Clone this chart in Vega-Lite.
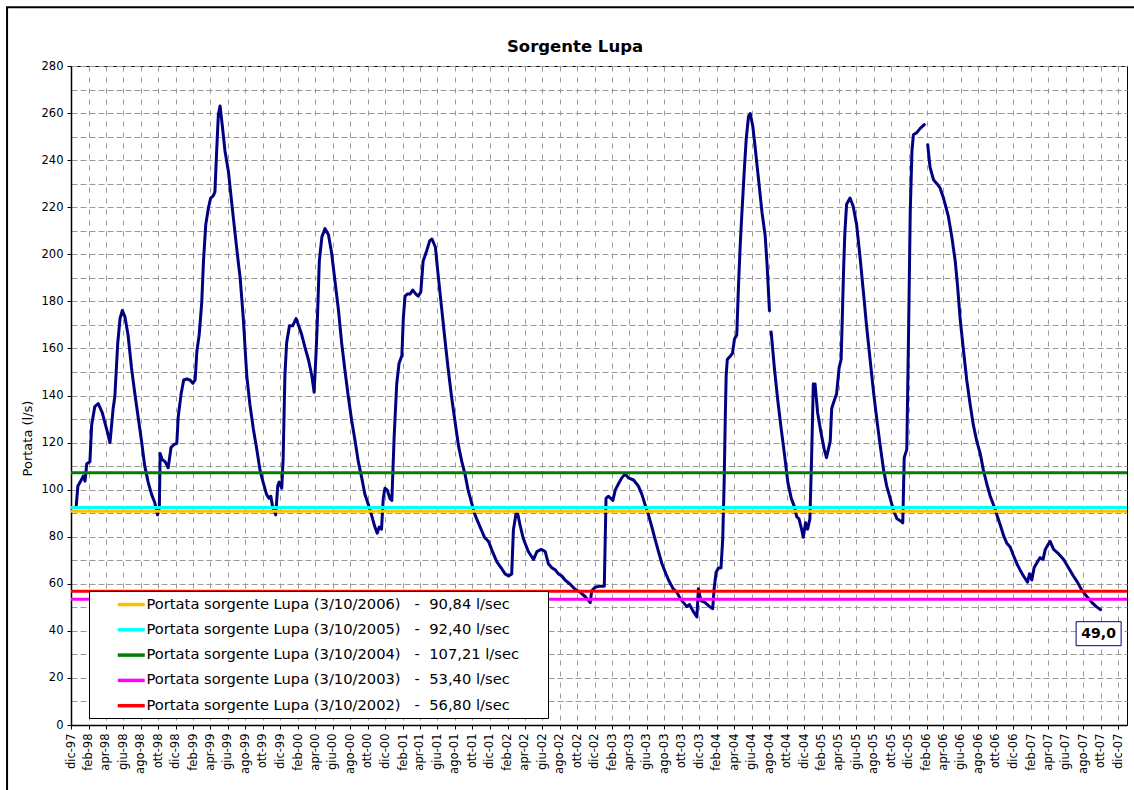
{
  "$schema": "https://vega.github.io/schema/vega-lite/v6.json",
  "autosize": {"type": "none"},
  "width": 1056,
  "height": 659,
  "padding": {"left": 71, "top": 66, "right": 7, "bottom": 65},
  "background": "#ffffff",
  "title": {"text": "Sorgente Lupa", "font": "DejaVu Sans", "fontSize": 16.5, "fontWeight": "bold", "color": "#000000", "anchor": "middle", "dx": -24, "dy": 60, "offset": 11},
  "config": {
    "view": {"stroke": "#000000", "strokeWidth": 1},
    "axis": {"labelFont": "DejaVu Sans", "titleFont": "DejaVu Sans", "labelColor": "#000000", "titleColor": "#000000", "domainColor": "#000000", "tickColor": "#000000", "labelFontSize": 11.5}
  },
  "datasets": {
    "portata": [
      {"d": "1997-12-19", "v": 92.8, "s": 1}, {"d": "1997-12-25", "v": 101.5, "s": 1}, {"d": "1998-01-02", "v": 103.2, "s": 1}, {"d": "1998-01-13", "v": 105.8, "s": 1}, {"d": "1998-01-19", "v": 103.6, "s": 1}, {"d": "1998-01-25", "v": 111.0, "s": 1}, {"d": "1998-02-05", "v": 111.9, "s": 1}, {"d": "1998-02-11", "v": 127.5, "s": 1}, {"d": "1998-02-22", "v": 135.3, "s": 1}, {"d": "1998-03-06", "v": 136.6, "s": 1}, {"d": "1998-03-20", "v": 132.7, "s": 1}, {"d": "1998-04-04", "v": 125.8, "s": 1}, {"d": "1998-04-16", "v": 120.0, "s": 1}, {"d": "1998-04-27", "v": 134.5, "s": 1}, {"d": "1998-05-03", "v": 139.7, "s": 1}, {"d": "1998-05-13", "v": 162.3, "s": 1}, {"d": "1998-05-21", "v": 172.7, "s": 1}, {"d": "1998-05-29", "v": 176.1, "s": 1}, {"d": "1998-06-07", "v": 173.5, "s": 1}, {"d": "1998-06-18", "v": 165.7, "s": 1}, {"d": "1998-06-30", "v": 151.8, "s": 1}, {"d": "1998-07-11", "v": 141.4, "s": 1}, {"d": "1998-07-23", "v": 131.0, "s": 1}, {"d": "1998-08-04", "v": 120.6, "s": 1}, {"d": "1998-08-15", "v": 110.2, "s": 1}, {"d": "1998-08-27", "v": 103.2, "s": 1}, {"d": "1998-09-08", "v": 98.0, "s": 1}, {"d": "1998-09-19", "v": 94.5, "s": 1}, {"d": "1998-09-29", "v": 89.3, "s": 1}, {"d": "1998-10-05", "v": 92.0, "s": 1}, {"d": "1998-10-08", "v": 115.4, "s": 1}, {"d": "1998-10-15", "v": 112.8, "s": 1}, {"d": "1998-10-25", "v": 111.9, "s": 1}, {"d": "1998-11-05", "v": 109.3, "s": 1}, {"d": "1998-11-15", "v": 118.0, "s": 1}, {"d": "1998-11-26", "v": 119.2, "s": 1}, {"d": "1998-12-05", "v": 119.7, "s": 1}, {"d": "1998-12-10", "v": 131.0, "s": 1}, {"d": "1998-12-20", "v": 140.6, "s": 1}, {"d": "1998-12-29", "v": 146.6, "s": 1}, {"d": "1999-01-09", "v": 147.0, "s": 1}, {"d": "1999-01-20", "v": 146.6, "s": 1}, {"d": "1999-01-30", "v": 145.2, "s": 1}, {"d": "1999-02-07", "v": 146.6, "s": 1}, {"d": "1999-02-13", "v": 158.8, "s": 1}, {"d": "1999-02-21", "v": 165.7, "s": 1}, {"d": "1999-03-02", "v": 179.6, "s": 1}, {"d": "1999-03-08", "v": 197.0, "s": 1}, {"d": "1999-03-16", "v": 212.6, "s": 1}, {"d": "1999-03-25", "v": 219.5, "s": 1}, {"d": "1999-04-02", "v": 223.9, "s": 1}, {"d": "1999-04-11", "v": 224.8, "s": 1}, {"d": "1999-04-17", "v": 226.5, "s": 1}, {"d": "1999-04-23", "v": 243.9, "s": 1}, {"d": "1999-04-29", "v": 259.5, "s": 1}, {"d": "1999-05-05", "v": 263.0, "s": 1}, {"d": "1999-05-13", "v": 254.3, "s": 1}, {"d": "1999-05-22", "v": 243.9, "s": 1}, {"d": "1999-06-03", "v": 235.2, "s": 1}, {"d": "1999-06-15", "v": 221.3, "s": 1}, {"d": "1999-06-26", "v": 209.1, "s": 1}, {"d": "1999-07-08", "v": 196.0, "s": 1}, {"d": "1999-07-14", "v": 190.0, "s": 1}, {"d": "1999-07-25", "v": 172.7, "s": 1}, {"d": "1999-08-06", "v": 148.4, "s": 1}, {"d": "1999-08-17", "v": 136.2, "s": 1}, {"d": "1999-08-29", "v": 125.8, "s": 1}, {"d": "1999-09-10", "v": 117.1, "s": 1}, {"d": "1999-09-21", "v": 108.4, "s": 1}, {"d": "1999-10-02", "v": 103.2, "s": 1}, {"d": "1999-10-14", "v": 98.0, "s": 1}, {"d": "1999-10-23", "v": 96.3, "s": 1}, {"d": "1999-10-29", "v": 97.2, "s": 1}, {"d": "1999-11-04", "v": 92.8, "s": 1}, {"d": "1999-11-15", "v": 89.3, "s": 1}, {"d": "1999-11-22", "v": 101.5, "s": 1}, {"d": "1999-11-27", "v": 103.2, "s": 1}, {"d": "1999-12-06", "v": 100.6, "s": 1}, {"d": "1999-12-11", "v": 113.6, "s": 1}, {"d": "1999-12-17", "v": 148.4, "s": 1}, {"d": "1999-12-23", "v": 162.3, "s": 1}, {"d": "2000-01-02", "v": 169.6, "s": 1}, {"d": "2000-01-13", "v": 169.6, "s": 1}, {"d": "2000-01-25", "v": 172.7, "s": 1}, {"d": "2000-02-02", "v": 170.1, "s": 1}, {"d": "2000-02-14", "v": 165.7, "s": 1}, {"d": "2000-02-25", "v": 160.5, "s": 1}, {"d": "2000-03-08", "v": 155.3, "s": 1}, {"d": "2000-03-20", "v": 148.4, "s": 1}, {"d": "2000-03-28", "v": 141.4, "s": 1}, {"d": "2000-04-04", "v": 158.8, "s": 1}, {"d": "2000-04-08", "v": 171.0, "s": 1}, {"d": "2000-04-15", "v": 197.0, "s": 1}, {"d": "2000-04-24", "v": 207.4, "s": 1}, {"d": "2000-05-05", "v": 210.9, "s": 1}, {"d": "2000-05-17", "v": 208.3, "s": 1}, {"d": "2000-05-28", "v": 200.5, "s": 1}, {"d": "2000-06-09", "v": 188.3, "s": 1}, {"d": "2000-06-21", "v": 176.1, "s": 1}, {"d": "2000-07-02", "v": 162.3, "s": 1}, {"d": "2000-07-14", "v": 150.1, "s": 1}, {"d": "2000-07-25", "v": 139.7, "s": 1}, {"d": "2000-08-06", "v": 129.3, "s": 1}, {"d": "2000-08-18", "v": 120.6, "s": 1}, {"d": "2000-08-29", "v": 111.9, "s": 1}, {"d": "2000-09-10", "v": 105.0, "s": 1}, {"d": "2000-09-21", "v": 98.0, "s": 1}, {"d": "2000-10-03", "v": 93.7, "s": 1}, {"d": "2000-10-14", "v": 89.3, "s": 1}, {"d": "2000-10-26", "v": 84.1, "s": 1}, {"d": "2000-11-03", "v": 81.5, "s": 1}, {"d": "2000-11-10", "v": 84.1, "s": 1}, {"d": "2000-11-18", "v": 83.2, "s": 1}, {"d": "2000-11-24", "v": 96.3, "s": 1}, {"d": "2000-11-30", "v": 100.6, "s": 1}, {"d": "2000-12-08", "v": 99.8, "s": 1}, {"d": "2000-12-17", "v": 96.3, "s": 1}, {"d": "2000-12-24", "v": 95.4, "s": 1}, {"d": "2001-01-01", "v": 122.3, "s": 1}, {"d": "2001-01-10", "v": 144.9, "s": 1}, {"d": "2001-01-18", "v": 153.6, "s": 1}, {"d": "2001-01-28", "v": 157.0, "s": 1}, {"d": "2001-02-02", "v": 172.7, "s": 1}, {"d": "2001-02-08", "v": 182.2, "s": 1}, {"d": "2001-02-16", "v": 183.1, "s": 1}, {"d": "2001-02-25", "v": 183.1, "s": 1}, {"d": "2001-03-07", "v": 184.8, "s": 1}, {"d": "2001-03-18", "v": 183.1, "s": 1}, {"d": "2001-03-26", "v": 182.2, "s": 1}, {"d": "2001-04-04", "v": 184.0, "s": 1}, {"d": "2001-04-12", "v": 197.0, "s": 1}, {"d": "2001-04-24", "v": 201.3, "s": 1}, {"d": "2001-05-05", "v": 205.7, "s": 1}, {"d": "2001-05-13", "v": 206.5, "s": 1}, {"d": "2001-05-25", "v": 203.0, "s": 1}, {"d": "2001-06-03", "v": 191.8, "s": 1}, {"d": "2001-06-15", "v": 177.9, "s": 1}, {"d": "2001-06-27", "v": 164.0, "s": 1}, {"d": "2001-07-08", "v": 151.8, "s": 1}, {"d": "2001-07-20", "v": 139.7, "s": 1}, {"d": "2001-08-01", "v": 129.3, "s": 1}, {"d": "2001-08-13", "v": 118.9, "s": 1}, {"d": "2001-08-25", "v": 111.9, "s": 1}, {"d": "2001-09-05", "v": 106.7, "s": 1}, {"d": "2001-09-16", "v": 99.8, "s": 1}, {"d": "2001-09-28", "v": 94.5, "s": 1}, {"d": "2001-10-10", "v": 89.3, "s": 1}, {"d": "2001-10-28", "v": 84.1, "s": 1}, {"d": "2001-11-12", "v": 79.8, "s": 1}, {"d": "2001-11-26", "v": 78.0, "s": 1}, {"d": "2001-12-10", "v": 73.7, "s": 1}, {"d": "2001-12-25", "v": 69.4, "s": 1}, {"d": "2002-01-09", "v": 66.8, "s": 1}, {"d": "2002-01-23", "v": 64.2, "s": 1}, {"d": "2002-02-04", "v": 63.3, "s": 1}, {"d": "2002-02-15", "v": 64.2, "s": 1}, {"d": "2002-02-21", "v": 82.9, "s": 1}, {"d": "2002-03-02", "v": 89.8, "s": 1}, {"d": "2002-03-08", "v": 89.8, "s": 1}, {"d": "2002-03-16", "v": 85.0, "s": 1}, {"d": "2002-03-28", "v": 79.0, "s": 1}, {"d": "2002-04-14", "v": 73.7, "s": 1}, {"d": "2002-05-02", "v": 70.3, "s": 1}, {"d": "2002-05-14", "v": 73.7, "s": 1}, {"d": "2002-05-29", "v": 74.6, "s": 1}, {"d": "2002-06-12", "v": 73.7, "s": 1}, {"d": "2002-06-23", "v": 68.5, "s": 1}, {"d": "2002-07-05", "v": 66.8, "s": 1}, {"d": "2002-07-17", "v": 65.9, "s": 1}, {"d": "2002-07-28", "v": 64.2, "s": 1}, {"d": "2002-08-09", "v": 63.3, "s": 1}, {"d": "2002-08-20", "v": 61.6, "s": 1}, {"d": "2002-09-07", "v": 59.8, "s": 1}, {"d": "2002-09-24", "v": 57.7, "s": 1}, {"d": "2002-10-12", "v": 56.4, "s": 1}, {"d": "2002-10-29", "v": 54.6, "s": 1}, {"d": "2002-11-16", "v": 52.0, "s": 1}, {"d": "2002-11-21", "v": 57.0, "s": 1}, {"d": "2002-12-03", "v": 58.5, "s": 1}, {"d": "2002-12-20", "v": 59.0, "s": 1}, {"d": "2003-01-04", "v": 59.0, "s": 1}, {"d": "2003-01-10", "v": 96.3, "s": 1}, {"d": "2003-01-18", "v": 97.2, "s": 1}, {"d": "2003-01-27", "v": 96.3, "s": 1}, {"d": "2003-02-03", "v": 95.4, "s": 1}, {"d": "2003-02-11", "v": 99.8, "s": 1}, {"d": "2003-02-22", "v": 102.4, "s": 1}, {"d": "2003-03-06", "v": 105.0, "s": 1}, {"d": "2003-03-18", "v": 106.7, "s": 1}, {"d": "2003-03-29", "v": 105.0, "s": 1}, {"d": "2003-04-16", "v": 104.1, "s": 1}, {"d": "2003-05-03", "v": 101.5, "s": 1}, {"d": "2003-05-15", "v": 98.0, "s": 1}, {"d": "2003-05-26", "v": 93.7, "s": 1}, {"d": "2003-06-07", "v": 89.3, "s": 1}, {"d": "2003-06-19", "v": 84.1, "s": 1}, {"d": "2003-06-30", "v": 79.0, "s": 1}, {"d": "2003-07-12", "v": 73.7, "s": 1}, {"d": "2003-07-24", "v": 68.5, "s": 1}, {"d": "2003-08-04", "v": 65.1, "s": 1}, {"d": "2003-08-16", "v": 61.6, "s": 1}, {"d": "2003-08-31", "v": 58.1, "s": 1}, {"d": "2003-09-14", "v": 56.4, "s": 1}, {"d": "2003-09-26", "v": 53.7, "s": 1}, {"d": "2003-10-07", "v": 52.0, "s": 1}, {"d": "2003-10-19", "v": 50.3, "s": 1}, {"d": "2003-10-28", "v": 51.2, "s": 1}, {"d": "2003-11-09", "v": 48.5, "s": 1}, {"d": "2003-11-23", "v": 45.9, "s": 1}, {"d": "2003-11-28", "v": 57.9, "s": 1}, {"d": "2003-12-07", "v": 52.8, "s": 1}, {"d": "2003-12-22", "v": 52.0, "s": 1}, {"d": "2004-01-06", "v": 50.3, "s": 1}, {"d": "2004-01-17", "v": 49.4, "s": 1}, {"d": "2004-01-22", "v": 57.9, "s": 1}, {"d": "2004-01-29", "v": 64.9, "s": 1}, {"d": "2004-02-06", "v": 66.7, "s": 1}, {"d": "2004-02-15", "v": 66.7, "s": 1}, {"d": "2004-02-21", "v": 79.0, "s": 1}, {"d": "2004-02-26", "v": 103.2, "s": 1}, {"d": "2004-03-01", "v": 131.0, "s": 1}, {"d": "2004-03-04", "v": 148.4, "s": 1}, {"d": "2004-03-08", "v": 155.3, "s": 1}, {"d": "2004-03-18", "v": 156.7, "s": 1}, {"d": "2004-03-26", "v": 157.9, "s": 1}, {"d": "2004-04-02", "v": 164.0, "s": 1}, {"d": "2004-04-10", "v": 165.7, "s": 1}, {"d": "2004-04-16", "v": 186.6, "s": 1}, {"d": "2004-04-22", "v": 203.9, "s": 1}, {"d": "2004-04-28", "v": 217.8, "s": 1}, {"d": "2004-05-06", "v": 235.2, "s": 1}, {"d": "2004-05-13", "v": 249.1, "s": 1}, {"d": "2004-05-21", "v": 258.6, "s": 1}, {"d": "2004-05-27", "v": 259.8, "s": 1}, {"d": "2004-06-05", "v": 254.3, "s": 1}, {"d": "2004-06-13", "v": 245.6, "s": 1}, {"d": "2004-06-25", "v": 231.7, "s": 1}, {"d": "2004-07-07", "v": 217.8, "s": 1}, {"d": "2004-07-18", "v": 208.0, "s": 1}, {"d": "2004-07-25", "v": 195.0, "s": 1}, {"d": "2004-08-02", "v": 176.0, "s": 1},
      {"d": "2004-08-08", "v": 167.0, "s": 2}, {"d": "2004-08-19", "v": 151.8, "s": 2}, {"d": "2004-08-31", "v": 137.9, "s": 2}, {"d": "2004-09-12", "v": 125.8, "s": 2}, {"d": "2004-09-23", "v": 115.4, "s": 2}, {"d": "2004-10-05", "v": 103.2, "s": 2}, {"d": "2004-10-17", "v": 96.3, "s": 2}, {"d": "2004-10-28", "v": 92.8, "s": 2}, {"d": "2004-11-05", "v": 88.5, "s": 2}, {"d": "2004-11-13", "v": 87.6, "s": 2}, {"d": "2004-11-22", "v": 83.2, "s": 2}, {"d": "2004-11-28", "v": 79.8, "s": 2}, {"d": "2004-12-06", "v": 85.9, "s": 2}, {"d": "2004-12-13", "v": 83.2, "s": 2}, {"d": "2004-12-21", "v": 87.6, "s": 2}, {"d": "2004-12-27", "v": 113.6, "s": 2}, {"d": "2005-01-02", "v": 144.9, "s": 2}, {"d": "2005-01-08", "v": 144.9, "s": 2}, {"d": "2005-01-17", "v": 132.7, "s": 2}, {"d": "2005-01-29", "v": 124.0, "s": 2}, {"d": "2005-02-09", "v": 117.1, "s": 2}, {"d": "2005-02-17", "v": 113.6, "s": 2}, {"d": "2005-03-02", "v": 120.6, "s": 2}, {"d": "2005-03-07", "v": 134.5, "s": 2}, {"d": "2005-03-16", "v": 137.9, "s": 2}, {"d": "2005-03-24", "v": 140.6, "s": 2}, {"d": "2005-04-02", "v": 151.8, "s": 2}, {"d": "2005-04-09", "v": 155.3, "s": 2}, {"d": "2005-04-13", "v": 172.7, "s": 2}, {"d": "2005-04-18", "v": 195.3, "s": 2}, {"d": "2005-04-22", "v": 209.1, "s": 2}, {"d": "2005-04-28", "v": 221.3, "s": 2}, {"d": "2005-05-10", "v": 223.9, "s": 2}, {"d": "2005-05-21", "v": 220.4, "s": 2}, {"d": "2005-06-02", "v": 212.6, "s": 2}, {"d": "2005-06-14", "v": 198.8, "s": 2}, {"d": "2005-06-25", "v": 184.8, "s": 2}, {"d": "2005-07-07", "v": 169.2, "s": 2}, {"d": "2005-07-19", "v": 155.3, "s": 2}, {"d": "2005-07-31", "v": 141.4, "s": 2}, {"d": "2005-08-12", "v": 129.3, "s": 2}, {"d": "2005-08-23", "v": 118.9, "s": 2}, {"d": "2005-09-04", "v": 108.4, "s": 2}, {"d": "2005-09-15", "v": 101.5, "s": 2}, {"d": "2005-09-27", "v": 96.3, "s": 2}, {"d": "2005-10-09", "v": 91.1, "s": 2}, {"d": "2005-10-21", "v": 87.6, "s": 2}, {"d": "2005-11-01", "v": 86.8, "s": 2}, {"d": "2005-11-10", "v": 85.9, "s": 2}, {"d": "2005-11-15", "v": 113.6, "s": 2}, {"d": "2005-11-24", "v": 117.1, "s": 2}, {"d": "2005-11-30", "v": 165.7, "s": 2}, {"d": "2005-12-06", "v": 217.8, "s": 2}, {"d": "2005-12-12", "v": 243.9, "s": 2}, {"d": "2005-12-17", "v": 250.8, "s": 2}, {"d": "2005-12-29", "v": 251.7, "s": 2}, {"d": "2006-01-09", "v": 253.4, "s": 2}, {"d": "2006-01-24", "v": 255.1, "s": 2},
      {"d": "2006-02-05", "v": 246.5, "s": 3}, {"d": "2006-02-13", "v": 237.0, "s": 3}, {"d": "2006-02-25", "v": 231.7, "s": 3}, {"d": "2006-03-09", "v": 230.0, "s": 3}, {"d": "2006-03-20", "v": 228.2, "s": 3}, {"d": "2006-04-01", "v": 223.9, "s": 3}, {"d": "2006-04-18", "v": 216.1, "s": 3}, {"d": "2006-04-30", "v": 207.4, "s": 3}, {"d": "2006-05-12", "v": 197.0, "s": 3}, {"d": "2006-05-20", "v": 186.6, "s": 3}, {"d": "2006-05-29", "v": 172.7, "s": 3}, {"d": "2006-06-10", "v": 158.8, "s": 3}, {"d": "2006-06-21", "v": 146.6, "s": 3}, {"d": "2006-07-03", "v": 136.2, "s": 3}, {"d": "2006-07-14", "v": 127.5, "s": 3}, {"d": "2006-07-26", "v": 120.6, "s": 3}, {"d": "2006-08-07", "v": 115.4, "s": 3}, {"d": "2006-08-18", "v": 108.4, "s": 3}, {"d": "2006-08-30", "v": 102.4, "s": 3}, {"d": "2006-09-11", "v": 97.2, "s": 3}, {"d": "2006-09-22", "v": 93.7, "s": 3}, {"d": "2006-10-04", "v": 89.3, "s": 3}, {"d": "2006-10-16", "v": 85.0, "s": 3}, {"d": "2006-10-27", "v": 80.7, "s": 3}, {"d": "2006-11-08", "v": 77.2, "s": 3}, {"d": "2006-11-20", "v": 75.5, "s": 3}, {"d": "2006-12-01", "v": 72.0, "s": 3}, {"d": "2006-12-13", "v": 68.5, "s": 3}, {"d": "2006-12-24", "v": 65.9, "s": 3}, {"d": "2007-01-05", "v": 63.3, "s": 3}, {"d": "2007-01-19", "v": 60.7, "s": 3}, {"d": "2007-01-26", "v": 64.2, "s": 3}, {"d": "2007-02-03", "v": 61.6, "s": 3}, {"d": "2007-02-11", "v": 66.8, "s": 3}, {"d": "2007-02-23", "v": 69.4, "s": 3}, {"d": "2007-03-04", "v": 71.1, "s": 3}, {"d": "2007-03-14", "v": 70.3, "s": 3}, {"d": "2007-03-22", "v": 74.6, "s": 3}, {"d": "2007-03-30", "v": 76.3, "s": 3}, {"d": "2007-04-08", "v": 78.0, "s": 3}, {"d": "2007-04-20", "v": 74.6, "s": 3}, {"d": "2007-05-07", "v": 72.8, "s": 3}, {"d": "2007-05-25", "v": 70.3, "s": 3}, {"d": "2007-06-11", "v": 66.8, "s": 3}, {"d": "2007-06-28", "v": 63.3, "s": 3}, {"d": "2007-07-12", "v": 60.7, "s": 3}, {"d": "2007-07-28", "v": 57.2, "s": 3}, {"d": "2007-08-14", "v": 54.6, "s": 3}, {"d": "2007-09-01", "v": 52.0, "s": 3}, {"d": "2007-09-16", "v": 50.3, "s": 3}, {"d": "2007-10-01", "v": 49.0, "s": 3}
    ],
    "soglie": [
      {"serie": "Portata sorgente Lupa (3/10/2006)\u00a0\u00a0\u00a0-\u00a0\u00a090,84 l/sec", "v": 90.84},
      {"serie": "Portata sorgente Lupa (3/10/2005)\u00a0\u00a0\u00a0-\u00a0\u00a092,40 l/sec", "v": 92.40},
      {"serie": "Portata sorgente Lupa (3/10/2004)\u00a0\u00a0\u00a0-\u00a0\u00a0107,21 l/sec\u00a0\u00a0\u00a0\u00a0\u00a0\u200b", "v": 107.21},
      {"serie": "Portata sorgente Lupa (3/10/2003)\u00a0\u00a0\u00a0-\u00a0\u00a053,40 l/sec", "v": 53.40},
      {"serie": "Portata sorgente Lupa (3/10/2002)\u00a0\u00a0\u00a0-\u00a0\u00a056,80 l/sec", "v": 56.80}
    ]
  },
  "layer": [
    {
      "data": {"name": "portata"},
      "mark": {"type": "line", "color": "#000080", "strokeWidth": 3, "strokeJoin": "round", "strokeCap": "round"},
      "encoding": {
        "x": {
          "field": "d", "type": "temporal",
          "scale": {"type": "utc", "domain": [{"year": 1997, "month": 12, "date": 1, "utc": true}, {"year": 2008, "month": 1, "date": 1, "utc": true}]},
          "axis": {
            "title": null,
            "tickCount": 200,
            "values": [
              {"year": 1997, "month": 12, "date": 1, "utc": true},
              {"year": 1998, "month": 2, "date": 1, "utc": true}, {"year": 1998, "month": 4, "date": 1, "utc": true}, {"year": 1998, "month": 6, "date": 1, "utc": true}, {"year": 1998, "month": 8, "date": 1, "utc": true}, {"year": 1998, "month": 10, "date": 1, "utc": true}, {"year": 1998, "month": 12, "date": 1, "utc": true},
              {"year": 1999, "month": 2, "date": 1, "utc": true}, {"year": 1999, "month": 4, "date": 1, "utc": true}, {"year": 1999, "month": 6, "date": 1, "utc": true}, {"year": 1999, "month": 8, "date": 1, "utc": true}, {"year": 1999, "month": 10, "date": 1, "utc": true}, {"year": 1999, "month": 12, "date": 1, "utc": true},
              {"year": 2000, "month": 2, "date": 1, "utc": true}, {"year": 2000, "month": 4, "date": 1, "utc": true}, {"year": 2000, "month": 6, "date": 1, "utc": true}, {"year": 2000, "month": 8, "date": 1, "utc": true}, {"year": 2000, "month": 10, "date": 1, "utc": true}, {"year": 2000, "month": 12, "date": 1, "utc": true},
              {"year": 2001, "month": 2, "date": 1, "utc": true}, {"year": 2001, "month": 4, "date": 1, "utc": true}, {"year": 2001, "month": 6, "date": 1, "utc": true}, {"year": 2001, "month": 8, "date": 1, "utc": true}, {"year": 2001, "month": 10, "date": 1, "utc": true}, {"year": 2001, "month": 12, "date": 1, "utc": true},
              {"year": 2002, "month": 2, "date": 1, "utc": true}, {"year": 2002, "month": 4, "date": 1, "utc": true}, {"year": 2002, "month": 6, "date": 1, "utc": true}, {"year": 2002, "month": 8, "date": 1, "utc": true}, {"year": 2002, "month": 10, "date": 1, "utc": true}, {"year": 2002, "month": 12, "date": 1, "utc": true},
              {"year": 2003, "month": 2, "date": 1, "utc": true}, {"year": 2003, "month": 4, "date": 1, "utc": true}, {"year": 2003, "month": 6, "date": 1, "utc": true}, {"year": 2003, "month": 8, "date": 1, "utc": true}, {"year": 2003, "month": 10, "date": 1, "utc": true}, {"year": 2003, "month": 12, "date": 1, "utc": true},
              {"year": 2004, "month": 2, "date": 1, "utc": true}, {"year": 2004, "month": 4, "date": 1, "utc": true}, {"year": 2004, "month": 6, "date": 1, "utc": true}, {"year": 2004, "month": 8, "date": 1, "utc": true}, {"year": 2004, "month": 10, "date": 1, "utc": true}, {"year": 2004, "month": 12, "date": 1, "utc": true},
              {"year": 2005, "month": 2, "date": 1, "utc": true}, {"year": 2005, "month": 4, "date": 1, "utc": true}, {"year": 2005, "month": 6, "date": 1, "utc": true}, {"year": 2005, "month": 8, "date": 1, "utc": true}, {"year": 2005, "month": 10, "date": 1, "utc": true}, {"year": 2005, "month": 12, "date": 1, "utc": true},
              {"year": 2006, "month": 2, "date": 1, "utc": true}, {"year": 2006, "month": 4, "date": 1, "utc": true}, {"year": 2006, "month": 6, "date": 1, "utc": true}, {"year": 2006, "month": 8, "date": 1, "utc": true}, {"year": 2006, "month": 10, "date": 1, "utc": true}, {"year": 2006, "month": 12, "date": 1, "utc": true},
              {"year": 2007, "month": 2, "date": 1, "utc": true}, {"year": 2007, "month": 4, "date": 1, "utc": true}, {"year": 2007, "month": 6, "date": 1, "utc": true}, {"year": 2007, "month": 8, "date": 1, "utc": true}, {"year": 2007, "month": 10, "date": 1, "utc": true}, {"year": 2007, "month": 12, "date": 1, "utc": true}
            ],
            "labelExpr": "['gen','feb','mar','apr','mag','giu','lug','ago','set','ott','nov','dic'][utcmonth(datum.value)] + '-' + utcFormat(datum.value, '%y')",
            "labelAngle": -90,
            "labelAlign": "right",
            "labelBaseline": "middle",
            "labelPadding": 4,
            "labelOverlap": false,
            "labelFlush": false,
            "tickSize": 4,
            "domainWidth": 1.5,
            "grid": true,
            "gridColor": "#999999",
            "gridDash": [5, 6],
            "gridWidth": 1
          }
        },
        "y": {
          "field": "v", "type": "quantitative",
          "scale": {"domain": [0, 280], "nice": false},
          "axis": {
            "title": "Portata (l/s)",
            "titleFontSize": 13,
            "titleFontWeight": "normal",
            "titleX": -37,
            "titleY": 372,
            "tickCount": 200,
            "values": [0, 10, 20, 30, 40, 50, 60, 70, 80, 90, 100, 110, 120, 130, 140, 150, 160, 170, 180, 190, 200, 210, 220, 230, 240, 250, 260, 270, 280],
            "labelExpr": "datum.value % 20 === 0 ? datum.label : ''",
            "tickOpacity": {"condition": {"test": "datum.value % 20 === 0", "value": 1}, "value": 0},
            "tickSize": 4,
            "labelPadding": 4,
            "domainWidth": 1.5,
            "labelOverlap": false,
            "labelFlush": false,
            "grid": true,
            "gridColor": "#999999",
            "gridDash": [6, 3],
            "gridWidth": 1
          }
        },
        "detail": {"field": "s", "type": "nominal"}
      }
    },
    {
      "data": {"values": [{}]},
      "mark": {"type": "rect", "fill": "transparent", "stroke": "#000000", "strokeWidth": 2, "clip": false},
      "encoding": {
        "x": {"datum": {"year": 1997, "month": 4, "date": 22, "utc": true}, "type": "temporal", "scale": {"type": "utc", "domain": [{"year": 1997, "month": 12, "date": 1, "utc": true}, {"year": 2008, "month": 1, "date": 1, "utc": true}]}},
        "x2": {"datum": {"year": 2008, "month": 2, "date": 16, "utc": true}},
        "y": {"datum": 305, "type": "quantitative", "scale": {"domain": [0, 280], "nice": false}},
        "y2": {"datum": -30}
      }
    },
    {
      "data": {"name": "soglie"},
      "mark": {"type": "rule", "strokeWidth": 3},
      "encoding": {
        "y": {"field": "v", "type": "quantitative", "scale": {"domain": [0, 280], "nice": false}},
        "color": {
          "field": "serie", "type": "nominal",
          "scale": {
            "domain": [
              "Portata sorgente Lupa (3/10/2006)\u00a0\u00a0\u00a0-\u00a0\u00a090,84 l/sec",
              "Portata sorgente Lupa (3/10/2005)\u00a0\u00a0\u00a0-\u00a0\u00a092,40 l/sec",
              "Portata sorgente Lupa (3/10/2004)\u00a0\u00a0\u00a0-\u00a0\u00a0107,21 l/sec\u00a0\u00a0\u00a0\u00a0\u00a0\u200b",
              "Portata sorgente Lupa (3/10/2003)\u00a0\u00a0\u00a0-\u00a0\u00a053,40 l/sec",
              "Portata sorgente Lupa (3/10/2002)\u00a0\u00a0\u00a0-\u00a0\u00a056,80 l/sec"
            ],
            "range": ["#FFC000", "#00FFFF", "#008000", "#FF00FF", "#FF0000"]
          },
          "legend": {
            "title": null,
            "orient": "none",
            "legendX": 18,
            "legendY": 525,
            "symbolType": "M-2,0L2,0",
            "symbolSize": 182,
            "symbolStrokeWidth": 3.5,
            "symbolOffset": 28.75,
            "labelOffset": 6.75,
            "labelFont": "DejaVu Sans",
            "labelFontSize": 14.7,
            "labelColor": "#000000",
            "labelLimit": 0,
            "fillColor": "#ffffff",
            "strokeColor": "#000000",
            "padding": 5,
            "rowPadding": 9.3
          }
        }
      }
    },
    {
      "data": {"name": "portata"},
      "transform": [{"filter": "datum.v === 49 && datum.s === 3"}],
      "mark": {"type": "rect", "width": 45, "height": 24, "xOffset": -2, "yOffset": 24, "fill": "#ffffff", "stroke": "#000080", "strokeWidth": 1},
      "encoding": {
        "x": {"field": "d", "type": "temporal", "scale": {"type": "utc", "domain": [{"year": 1997, "month": 12, "date": 1, "utc": true}, {"year": 2008, "month": 1, "date": 1, "utc": true}]}},
        "y": {"field": "v", "type": "quantitative", "scale": {"domain": [0, 280], "nice": false}}
      }
    },
    {
      "data": {"name": "portata"},
      "transform": [{"filter": "datum.v === 49 && datum.s === 3"}, {"calculate": "replace(format(datum.v, '.1f'), '.', ',')", "as": "lab"}],
      "mark": {"type": "text", "font": "DejaVu Sans", "fontSize": 14, "fontWeight": "bold", "color": "#000000", "align": "center", "baseline": "middle", "dx": -2, "dy": 24},
      "encoding": {
        "x": {"field": "d", "type": "temporal", "scale": {"type": "utc", "domain": [{"year": 1997, "month": 12, "date": 1, "utc": true}, {"year": 2008, "month": 1, "date": 1, "utc": true}]}},
        "y": {"field": "v", "type": "quantitative", "scale": {"domain": [0, 280], "nice": false}},
        "text": {"field": "lab"}
      }
    }
  ]
}
